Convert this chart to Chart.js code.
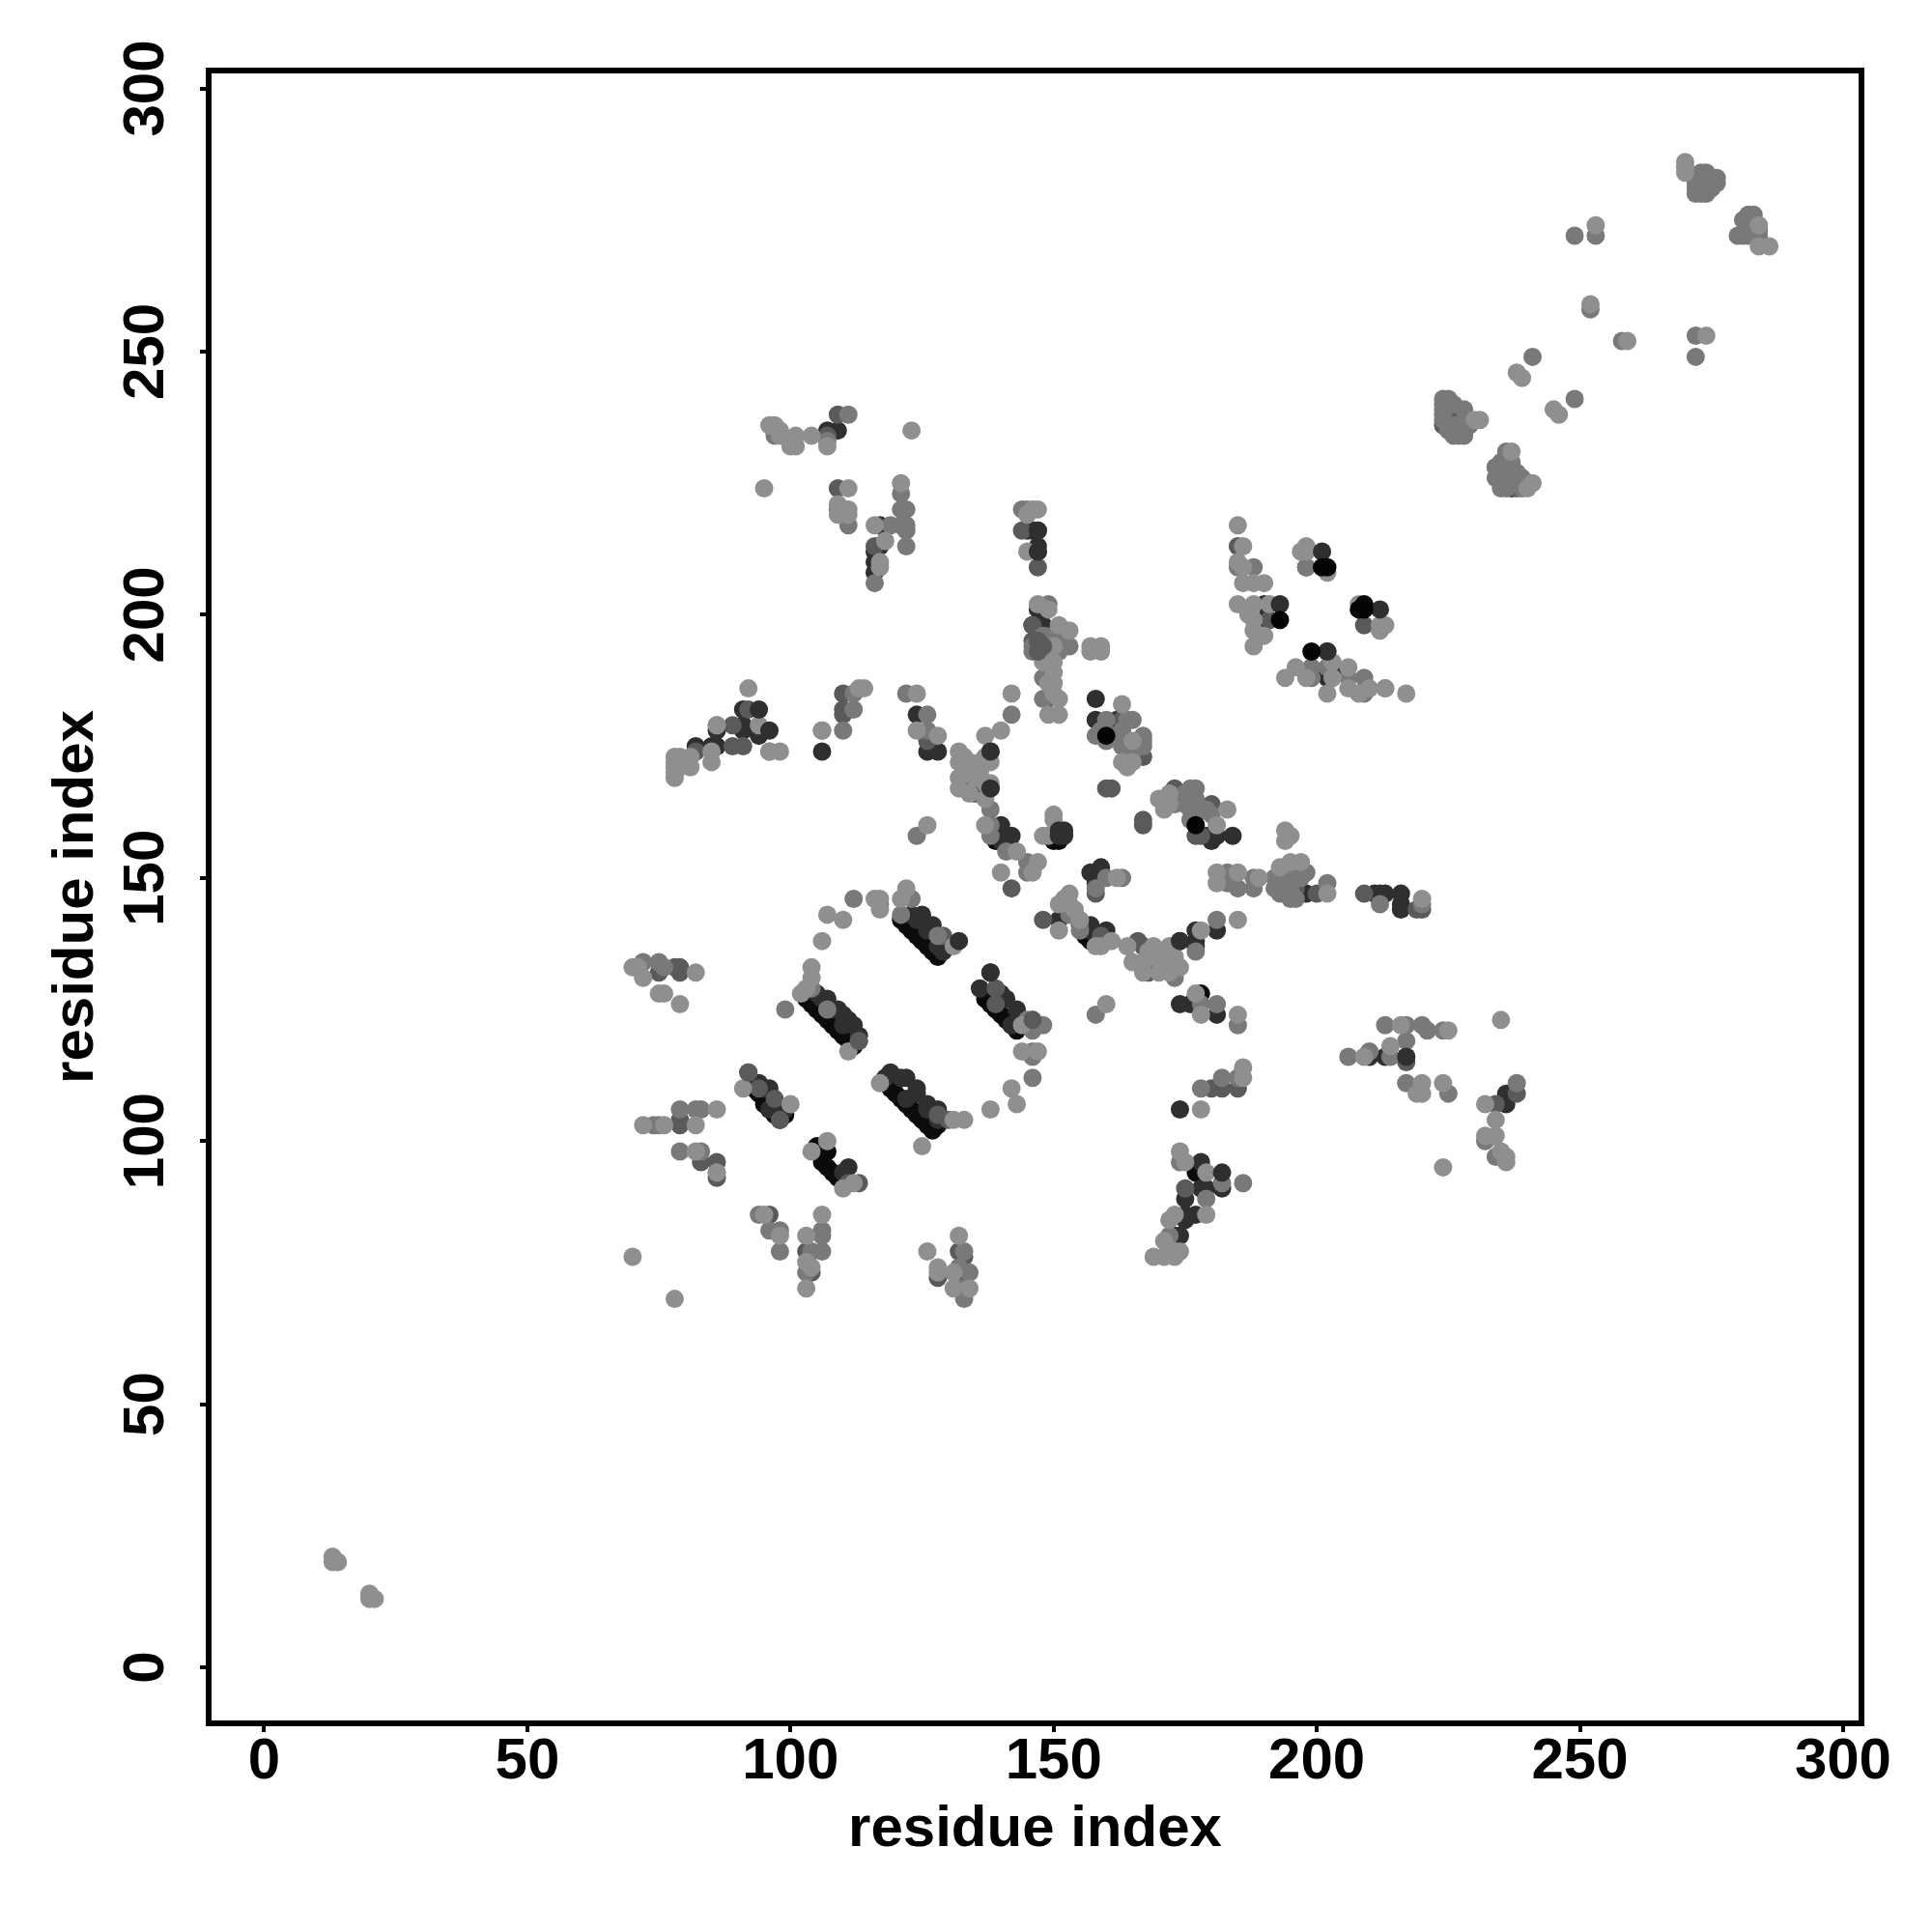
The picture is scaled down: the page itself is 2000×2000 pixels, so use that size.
<!DOCTYPE html>
<html>
<head>
<meta charset="utf-8">
<title>residue contact map</title>
<script src="https://cdn.jsdelivr.net/npm/chart.js@4"></script>
<style>
  html, body { margin: 0; padding: 0; background: #fff; }
  #wrap { width: 2000px; height: 2000px; }
</style>
</head>
<body>
<div id="wrap"><canvas id="contactChart" width="2000" height="2000"></canvas></div>
<script>
// contacts as [residue i, residue j], grouped by shade, darkest drawn first
const blackPoints = [
  [103,127],[104,126],[105,125],[106,124],[107,123],[108,122],[109,121],[110,120],[111,119],[112,118],
  [137,127],[138,126],[139,125],[140,124],[141,123],[142,122],[143,121],
  [121,142],[122,141],[123,140],[124,139],[125,138],[126,137],[127,136],[128,135],
  [118,111],[119,110],[120,109],[121,108],[122,107],[123,106],[124,105],[125,104],[126,103],[127,102],[128,103],
  [93,110],[94,109],[95,108],[95,107],[96,106],[97,105],[98,104],[99,105],
  [105,99],[105,98],[106,97],[106,96],[107,95],[108,94],[109,93],[107,98],
  [139,157],[150,157],[151,157],[177,94],[178,128],[157,139],[156,139],[157,138],[146,198]
];
const darkPoints = [
  [105,128],[107,126],[110,124],[112,122],[106,127],[108,125],[111,123],[107,127],[109,125],[110,122],[113,120],
  [138,132],[136,129],[141,127],[143,125],[142,122],[144,123],[140,128],
  [125,143],[127,141],[123,143],[128,137],[129,136],[126,140],[124,142],[129,138],
  [118,112],[119,113],[121,112],[122,112],[124,110],[124,109],[122,108],[126,107],[128,106],[128,104],[126,106],
  [94,111],[95,110],[96,110],[96,106],[97,107],[98,106],[99,106],[111,95],[110,94],
  [91,182],[86,178],[82,175],[85,175],[86,175],[91,178],[91,179],[94,177],
  [124,181],[126,174],[128,174],[138,174],[138,167],
  [145,216],[146,216],[147,216],[147,213],[147,212],[148,198],[147,201],
  [140,160],[141,158],[142,158],[140,157],[158,180],[162,180],[180,163],[180,158],[181,158],[179,158],[180,157],
  [198,147],[211,147],[212,147],[213,147],[216,147],[216,145],[216,144],
  [190,202],[190,199],[202,193],[199,189],[202,189],[202,188],[203,189],
  [107,235],[109,235],[117,213],[116,212],[116,210],[116,208],[117,217],
  [210,116],[213,116],[174,126],[176,126],[178,96],[178,91],[179,91],[182,91],
  [175,89],[175,86],[175,85],[173,82],[174,82],[177,86],[181,124],[236,109],[236,107],
  [151,142],[157,141],[157,140],[160,140],[158,151],[159,152],[157,151],[158,149],[159,151],
  [177,140],[177,137],[181,140],[174,138],[177,138],[168,133],[170,134],
  [225,238],[227,238],[225,236],[227,236],[235,228],[237,228],[235,226],[237,226],[237,224]
];
const midDarkPoints = [
  [92,113],[94,110],[97,108],[98,104],[113,119],[113,92],[111,92],
  [75,132],[78,133],[79,132],[79,133],[79,104],[79,103],[86,96],[86,93],[83,96],
  [96,86],[104,75],[103,79],[128,74],[133,78],[132,79],[132,75],
  [92,182],[89,179],[82,174],[89,175],[91,175],[110,182],[110,181],[110,185],
  [126,176],[133,167],[135,166],[134,168],
  [144,216],[147,209],[146,198],[146,195],[148,195],[149,184],[142,148],
  [147,196],[148,194],[147,195],[149,196],
  [160,167],[161,167],[163,180],[167,173],[167,161],[167,160],[173,167],[177,158],[180,164],[180,163],[178,158],
  [209,147],[200,147],[220,144],[219,144],[198,209],[209,198],[185,213],[191,199],
  [109,238],[107,234],[109,224],[116,213],[217,115],[217,116],[238,109],[234,107],
  [180,110],[182,110],[175,91],[185,110],[129,139],[130,104],[128,105],[139,129],[139,126],
  [148,142],[166,138],[167,137],[155,141],[159,139],[158,147],[168,132],[171,133],
  [196,148],[194,147],[196,151],[193,149],
  [226,237],[228,235],[224,236],[226,239],[234,228],[236,226],[238,224],[236,229]
];
const midPoints = [
  [99,125],[104,129],[107,125],[123,146],[121,143],[128,139],
  [112,146],[117,145],[124,158],[158,124],[146,123],[148,122],[146,121],[146,117],[146,116],[146,112],[146,122],[145,123],
  [72,134],[75,134],[76,133],[75,103],[74,103],[82,106],[83,106],[79,106],[79,98],[83,98],[86,94],
  [94,86],[96,83],[98,83],[98,79],[106,83],[106,82],[104,79],[106,79],[103,75],[133,79],[134,75],[133,70],[132,72],[133,72],[132,76],
  [86,179],[96,174],[106,178],[110,178],[112,182],[112,185],[122,185],[126,178],[126,181],[142,181],
  [138,163],[138,160],[138,158],[141,155],[145,153],[145,151],
  [146,193],[149,202],[151,195],[153,194],[148,188],[148,184],[144,220],[145,220],
  [146,194],[147,193],[149,193],[151,193],[152,194],[149,195],[150,196],[148,196],
  [160,180],[158,177],[160,176],[163,176],[167,177],[167,176],[159,178],[161,177],[162,177],[163,178],[165,180],[164,180],[163,175],[165,175],[166,176],[165,174],[167,175],
  [177,167],[176,167],[177,164],[173,164],[175,166],[175,164],[176,163],[177,165],[177,162],[178,163],[176,161],[179,163],[180,162],
  [188,209],[185,209],[198,209],[209,188],[209,185],[206,188],[213,186],[199,190],[202,190],[199,188],
  [183,151],[183,149],[185,148],[188,150],[188,148],[195,150],[198,151],[202,149],[212,145],[220,145],
  [192,148],[193,147],[195,146],[192,150],[194,148],[195,148],[193,150],[197,150],[196,146],[195,152],
  [97,234],[107,233],[111,238],[109,220],[111,217],[116,206],[119,217],[121,223],[121,220],[122,220],[122,217],[121,217],[122,216],[122,213],
  [178,126],[181,126],[185,122],[178,110],[182,112],[185,112],[174,96],[182,92],[186,92],[179,89],[172,82],
  [206,116],[210,117],[214,116],[217,119],[217,122],[213,122],[220,122],[221,121],[224,121],[217,111],[225,109],[238,111],
  [232,100],[234,97],
  [153,143],[155,140],[173,131],[181,142],[177,136],[160,150],[163,150],[158,148],[170,135],
  [224,241],[225,241],[226,240],[224,239],[228,239],[228,237],[224,238],[224,237],[226,236],[225,235],[227,234],[228,234],[229,236],[229,237],[226,234],[224,240],
  [234,226],[235,229],[235,224],[239,224],[236,231],[234,228],[236,227],[238,227],[236,225],[238,225],[239,226],[240,225],[237,229],[236,224],
  [273,283],[274,283],[276,282],[272,280],[274,280],[272,281],[274,281],[283,275],[281,272],[280,272],[283,272],[281,275],
  [272,282],[273,284],[274,284],[275,283],[273,280],[275,281],[276,283],[275,282],[274,282],[282,276],[283,276],[282,274],[283,274],[284,273],[284,272],[283,273],[282,272],
  [249,272],[253,272],[252,258],[258,252],[272,253],[272,249],[241,249],[249,241]
];
const lightPoints = [
  [13,21],[14,20],[13,20],[20,14],[21,13],[20,13],
  [78,169],[78,170],[78,171],[78,172],[78,173],[79,171],[79,172],[79,173],[81,171],[81,173],[85,172],[85,174],
  [92,186],[86,179],[94,179],[98,174],[96,174],[106,178],[113,186],[114,186],[124,185],[124,178],[128,177],
  [132,174],[132,172],[132,169],[132,167],[133,173],[134,172],[135,171],[134,170],[133,170],[136,170],[135,169],[134,166],[137,173],[137,168],[137,165],[137,177],[136,172],
  [138,172],[138,168],[140,178],[142,185],[137,160],[143,155],[147,153],[146,151],[140,151],
  [145,212],[145,219],[146,220],[147,220],[147,202],[149,201],[151,198],[153,197],
  [148,192],[150,194],[150,191],[148,191],
  [157,194],[159,194],[157,193],[159,193],[150,189],[150,187],[149,187],[150,185],[151,184],[149,181],[151,181],
  [150,162],[150,161],[148,158],[149,158],[126,160],
  [163,183],[165,176],[163,172],[165,172],[164,171],[171,164],[183,163],[181,160],[170,165],[171,165],[171,163],[172,164],[172,166],
  [181,151],[181,149],[185,151],[189,150],
  [194,159],[194,157],[195,158],[193,152],[195,153],[197,153],[202,147],
  [220,146],[185,217],[186,213],[186,209],[185,210],[186,206],[188,206],[190,206],[185,202],[188,202],[191,202],[188,199],[188,197],[190,196],[188,194],[187,200],
  [197,212],[198,213],[198,212],[202,208],[208,202],[212,197],[213,198],[212,198],
  [196,190],[194,188],[198,188],[203,191],[203,188],[202,185],[206,190],[206,186],[208,185],[210,186],[213,186],[217,185],
  [95,224],[96,236],[97,236],[98,235],[98,234],[100,232],[101,232],[101,234],[104,234],[107,232],[123,235],
  [111,224],[109,221],[111,220],[109,219],[111,219],[116,217],[118,214],[117,210],[117,209],[121,225],
  [70,133],[71,133],[72,131],[75,128],[76,128],[79,126],[82,132],[72,103],[76,103],[82,103],[86,106],[82,98],[86,94],
  [102,128],[103,129],[104,131],[104,133],[111,117],[144,122],[144,117],[147,117],[142,110],[143,107],[138,106],
  [122,148],[121,146],[131,137],[117,146],[116,146],[117,144],[107,143],[110,142],[106,138],
  [91,110],[100,107],[117,111],[131,104],[133,104],[104,98],[107,100],[110,91],[112,92],
  [95,86],[98,82],[106,86],[103,82],[103,77],[104,76],[103,72],[70,78],[78,70],
  [132,82],[126,79],[128,76],[128,75],[131,75],[131,72],[134,72],
  [125,99],[160,126],[177,128],[178,124],[185,124],[186,114],[186,112],[178,106],
  [174,98],[175,96],[179,94],[179,86],[172,85],[173,86],[171,81],[174,79],[173,79],[169,78],[171,78],[173,78],
  [209,116],[214,118],[216,122],[225,121],[220,111],[220,109],[219,109],[224,111],[235,123],
  [232,107],[234,104],[234,101],[232,101],[235,98],[236,97],[236,96],[224,95],
  [231,237],[230,237],[237,231],[241,225],[240,224],
  [151,140],[153,147],[151,145],[152,146],[153,145],[155,142],[154,144],[161,138],[159,137],[158,137],[164,137],[169,137],[172,137],[171,136],
  [165,134],[167,132],[167,134],[168,136],[169,135],[170,132],[171,134],[172,134],[173,133],[173,135],[174,133],[172,132],[178,140],[185,142],[162,150],
  [270,286],[270,285],[270,284],[284,274],[284,270],[286,270],[253,274],[252,259],[259,252],[274,253],[238,246],[239,245],[245,239],[246,238]
];
// these sit above the lighter circles in the picture
const topMidDarkPoints = [[113,119],[92,113],[146,123],[147,195],[148,194],[147,193]];
const topDarkPoints = [
  [94,182],[96,178],[106,174],[132,138],[138,132],[138,174],[138,167],[147,216],[147,212],[158,184],
  [193,202],[201,212],[212,201],[202,193],[174,106],[182,94],[184,158],[217,116],[152,159],[152,158],[151,158],[151,159],[174,138]
];
const topBlackPoints = [[160,177],[193,199],[201,209],[202,209],[199,193],[208,201],[209,201],[209,202],[177,160]];

const xTicks = [0, 50, 100, 150, 200, 250, 300];
const yTicks = [0, 50, 100, 150, 200, 250, 300];

const shadeLayers = [
  { name: 'black', points: blackPoints, color: '#0b0b0b' },
  { name: 'dark', points: darkPoints, color: '#2f2f2f' },
  { name: 'midDark', points: midDarkPoints, color: '#5a5a5a' },
  { name: 'mid', points: midPoints, color: '#797979' },
  { name: 'light', points: lightPoints, color: '#8f8f8f' },
  { name: 'topMidDark', points: topMidDarkPoints, color: '#5a5a5a' },
  { name: 'topDark', points: topDarkPoints, color: '#2f2f2f' },
  { name: 'topBlack', points: topBlackPoints, color: '#050505' }
];

// box round the plot, R style
const frameBox = {
  id: 'frameBox',
  afterDraw(chart) {
    const { ctx, chartArea: a } = chart;
    ctx.save();
    ctx.strokeStyle = '#000';
    ctx.lineWidth = 6;
    ctx.strokeRect(a.left, a.top, a.right - a.left, a.bottom - a.top);
    ctx.restore();
  }
};

const labelFont = { family: '"Liberation Sans", Arial, sans-serif', weight: 'bold', size: 60 };

new Chart(document.getElementById('contactChart'), {
  type: 'scatter',
  data: {
    datasets: shadeLayers.map((layer, i) => ({
      label: layer.name,
      data: layer.points.map(p => ({ x: p[0], y: p[1] })),
      backgroundColor: layer.color,
      pointRadius: 9.5,
      borderWidth: 0,
      order: shadeLayers.length - i
    }))
  },
  options: {
    responsive: false,
    animation: false,
    layout: { padding: { top: 73, right: 73, left: 0, bottom: 0 } },
    plugins: { legend: { display: false }, tooltip: { enabled: false } },
    scales: {
      x: {
        type: 'linear',
        min: -10.55,
        max: 303.5,
        afterBuildTicks: s => { s.ticks = xTicks.map(v => ({ value: v })); },
        afterFit: s => { s.height = 216; },
        border: { display: false },
        grid: { drawOnChartArea: false, color: '#000', lineWidth: 4, tickLength: 9, tickColor: '#000' },
        ticks: { color: '#000', font: labelFont, padding: -5, maxRotation: 0, minRotation: 0, autoSkip: false },
        title: { display: true, text: 'residue index', color: '#000', font: labelFont, padding: { top: 0, bottom: 70 } }
      },
      y: {
        type: 'linear',
        min: -10.65,
        max: 303.4,
        afterBuildTicks: s => { s.ticks = yTicks.map(v => ({ value: v })); },
        afterFit: s => { s.width = 216; },
        border: { display: false },
        grid: { drawOnChartArea: false, color: '#000', lineWidth: 4, tickLength: 9, tickColor: '#000' },
        ticks: { color: '#000', font: labelFont, padding: 4, minRotation: 90, maxRotation: 90, autoSkip: false, crossAlign: 'center' },
        title: { display: true, text: 'residue index', color: '#000', font: labelFont, padding: { top: 43, bottom: 0 } }
      }
    }
  },
  plugins: [frameBox]
});
</script>
</body>
</html>
